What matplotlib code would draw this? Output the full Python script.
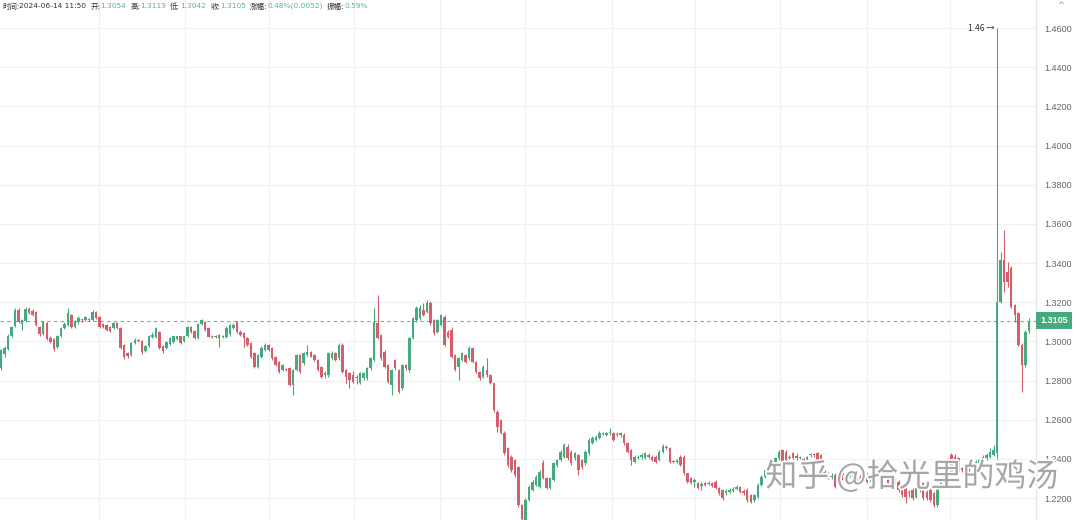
import matplotlib.pyplot as plt
import matplotlib.patheffects as pe
import matplotlib.transforms as mtransforms
from matplotlib.ticker import FormatStrFormatter
import numpy as np

# 5-minute candles (oldest first)
opens = [
    # 0-58
    1.2862, 1.2935, 1.2960, 1.3025, 1.3080, 1.3160, 1.3090, 1.3105, 1.3165, 1.3155,
    1.3150, 1.3075, 1.3040, 1.3095, 1.3015, 1.3010, 1.2970, 1.3030, 1.3070, 1.3085,
    1.3135, 1.3075, 1.3100, 1.3110, 1.3110, 1.3115, 1.3110, 1.3150, 1.3125, 1.3090,
    1.3085, 1.3075, 1.3070, 1.3095, 1.3070, 1.2980, 1.2940, 1.2930, 1.2990, 1.3005,
    1.3000, 1.2950, 1.2975, 1.3020, 1.3020, 1.3050, 1.2975, 1.2965, 1.2985, 1.2995,
    1.3010, 1.3025, 1.3000, 1.3025, 1.3075, 1.3055, 1.3015, 1.3090, 1.3100,
    # 59-115
    1.3067, 1.3030, 1.3024, 1.3033, 1.3020, 1.3024, 1.3040, 1.3070, 1.3101, 1.3050,
    1.3041, 1.3016, 1.2990, 1.2939, 1.2871, 1.2922, 1.2956, 1.2981, 1.2965, 1.2922,
    1.2896, 1.2854, 1.2860, 1.2862, 1.2777, 1.2854, 1.2930, 1.2888, 1.2930, 1.2947,
    1.2930, 1.2905, 1.2871, 1.2830, 1.2828, 1.2913, 1.2939, 1.2913, 1.2981, 1.2854,
    1.2837, 1.2830, 1.2811, 1.2786, 1.2811, 1.2811, 1.2862, 1.2905, 1.3092, 1.3033,
    1.2947, 1.2879, 1.2777, 1.2905, 1.2854, 1.2760, 1.2879,
    # 116-173
    1.2854, 1.3015, 1.3109, 1.3118, 1.3160, 1.3152, 1.3194, 1.3109, 1.3050, 1.3084,
    1.3126, 1.3050, 1.3058, 1.2930, 1.2870, 1.2905, 1.2930, 1.2913, 1.2964, 1.2896,
    1.2845, 1.2820, 1.2854, 1.2828, 1.2786, 1.2641, 1.2598, 1.2530, 1.2454, 1.2411,
    1.2394, 1.2360, 1.2164, 1.2090, 1.2190, 1.2241, 1.2267, 1.2258, 1.2377, 1.2301,
    1.2250, 1.2292, 1.2369, 1.2394, 1.2411, 1.2462, 1.2437, 1.2403, 1.2420, 1.2394,
    1.2377, 1.2428, 1.2480, 1.2497, 1.2505, 1.2530, 1.2522, 1.2530,
    # 174-233
    1.2530, 1.2525, 1.2520, 1.2522, 1.2479, 1.2445, 1.2386, 1.2405, 1.2411, 1.2403,
    1.2420, 1.2411, 1.2411, 1.2394, 1.2437, 1.2462, 1.2455, 1.2390, 1.2386, 1.2411,
    1.2411, 1.2326, 1.2301, 1.2280, 1.2275, 1.2260, 1.2275, 1.2270, 1.2275, 1.2284,
    1.2250, 1.2241, 1.2224, 1.2233, 1.2238, 1.2245, 1.2255, 1.2236, 1.2241, 1.2216,
    1.2190, 1.2207, 1.2267, 1.2309, 1.2343, 1.2352, 1.2377, 1.2403, 1.2445, 1.2437,
    1.2405, 1.2428, 1.2415, 1.2405, 1.2400, 1.2400, 1.2418, 1.2425, 1.2428, 1.2420,
    # 234-282
    1.2309, 1.2326, 1.2305, 1.2318, 1.2267, 1.2330, 1.2318, 1.2310, 1.2318, 1.2284,
    1.2309, 1.2301, 1.2318, 1.2290, 1.2300, 1.2326, 1.2360, 1.2326, 1.2326, 1.2280,
    1.2301, 1.2284, 1.2258, 1.2250, 1.2233, 1.2241, 1.2207, 1.2250, 1.2275, 1.2233,
    1.2241, 1.2224, 1.2165, 1.2250, 1.2330, 1.2394, 1.2420, 1.2411, 1.2403, 1.2352,
    1.2343, 1.2360, 1.2352, 1.2360, 1.2377, 1.2386, 1.2403, 1.2411, 1.2420,
    # 283-292
    1.2428, 1.3203, 1.3415, 1.3356, 1.3373, 1.3186, 1.3143, 1.2981, 1.2879, 1.3054,
]
highs = [
    1.2960, 1.2975, 1.3040, 1.3080, 1.3170, 1.3170, 1.3115, 1.3175, 1.3175, 1.3165,
    1.3155, 1.3080, 1.3105, 1.3100, 1.3025, 1.3015, 1.3035, 1.3075, 1.3100, 1.3170,
    1.3140, 1.3110, 1.3130, 1.3115, 1.3130, 1.3120, 1.3160, 1.3155, 1.3130, 1.3095,
    1.3090, 1.3080, 1.3100, 1.3100, 1.3075, 1.2985, 1.2945, 1.2995, 1.3015, 1.3010,
    1.3005, 1.2980, 1.3035, 1.3050, 1.3075, 1.3055, 1.2980, 1.3000, 1.3020, 1.3030,
    1.3030, 1.3030, 1.3030, 1.3080, 1.3080, 1.3060, 1.3095, 1.3115, 1.3105,
    1.3075, 1.3035, 1.3035, 1.3038, 1.3035, 1.3080, 1.3090, 1.3095, 1.3104, 1.3058,
    1.3050, 1.3020, 1.2995, 1.2945, 1.2935, 1.2975, 1.2990, 1.2985, 1.2970, 1.2925,
    1.2900, 1.2885, 1.2866, 1.2868, 1.2860, 1.2935, 1.2935, 1.2945, 1.2981, 1.2952,
    1.2935, 1.2910, 1.2875, 1.2850, 1.2945, 1.2950, 1.2945, 1.2990, 1.2990, 1.2860,
    1.2845, 1.2850, 1.2828, 1.2845, 1.2845, 1.2870, 1.2920, 1.3169, 1.3237, 1.3040,
    1.2955, 1.2885, 1.2860, 1.2910, 1.2860, 1.2885, 1.2885,
    1.3020, 1.3125, 1.3180, 1.3185, 1.3194, 1.3211, 1.3205, 1.3115, 1.3115, 1.3140,
    1.3135, 1.3058, 1.3075, 1.2935, 1.2920, 1.2945, 1.2935, 1.2975, 1.2970, 1.2900,
    1.2850, 1.2880, 1.2913, 1.2835, 1.2790, 1.2650, 1.2605, 1.2540, 1.2460, 1.2420,
    1.2400, 1.2365, 1.2170, 1.2200, 1.2265, 1.2290, 1.2318, 1.2343, 1.2395, 1.2305,
    1.2305, 1.2385, 1.2400, 1.2445, 1.2480, 1.2475, 1.2445, 1.2435, 1.2425, 1.2400,
    1.2445, 1.2505, 1.2515, 1.2520, 1.2540, 1.2535, 1.2535, 1.2556,
    1.2535, 1.2535, 1.2535, 1.2530, 1.2485, 1.2450, 1.2418, 1.2420, 1.2428, 1.2435,
    1.2428, 1.2418, 1.2418, 1.2445, 1.2475, 1.2470, 1.2460, 1.2396, 1.2400, 1.2418,
    1.2418, 1.2330, 1.2305, 1.2300, 1.2280, 1.2280, 1.2282, 1.2285, 1.2282, 1.2290,
    1.2255, 1.2248, 1.2245, 1.2250, 1.2255, 1.2265, 1.2262, 1.2245, 1.2250, 1.2222,
    1.2222, 1.2275, 1.2318, 1.2350, 1.2375, 1.2385, 1.2410, 1.2445, 1.2450, 1.2445,
    1.2418, 1.2435, 1.2430, 1.2415, 1.2406, 1.2415, 1.2432, 1.2432, 1.2435, 1.2426,
    1.2343, 1.2335, 1.2326, 1.2326, 1.2343, 1.2340, 1.2326, 1.2330, 1.2326, 1.2326,
    1.2318, 1.2318, 1.2326, 1.2309, 1.2335, 1.2365, 1.2369, 1.2335, 1.2330, 1.2301,
    1.2305, 1.2292, 1.2267, 1.2258, 1.2241, 1.2250, 1.2258, 1.2258, 1.2284, 1.2241,
    1.2250, 1.2230, 1.2265, 1.2300, 1.2335, 1.2405, 1.2428, 1.2425, 1.2411, 1.2360,
    1.2369, 1.2369, 1.2369, 1.2394, 1.2400, 1.2418, 1.2428, 1.2454, 1.2470,
    1.4600, 1.3458, 1.3569, 1.3407, 1.3385, 1.3190, 1.3150, 1.2990, 1.3060, 1.3119,
]
lows = [
    1.2855, 1.2920, 1.2955, 1.3020, 1.3075, 1.3095, 1.3060, 1.3100, 1.3140, 1.3130,
    1.3080, 1.3030, 1.3035, 1.3005, 1.2990, 1.2950, 1.2965, 1.3020, 1.3065, 1.3080,
    1.3070, 1.3070, 1.3090, 1.3100, 1.3105, 1.3105, 1.3105, 1.3115, 1.3070, 1.3070,
    1.3055, 1.3050, 1.3065, 1.3065, 1.2960, 1.2910, 1.2915, 1.2925, 1.2985, 1.2995,
    1.2935, 1.2945, 1.2970, 1.3015, 1.3015, 1.2960, 1.2940, 1.2960, 1.2980, 1.2990,
    1.3005, 1.2985, 1.2995, 1.3020, 1.3045, 1.3010, 1.3010, 1.3085, 1.3055,
    1.3020, 1.3015, 1.3018, 1.2973, 1.3015, 1.3015, 1.3030, 1.3065, 1.3045, 1.3028,
    1.2973, 1.2975, 1.2915, 1.2865, 1.2865, 1.2915, 1.2950, 1.2950, 1.2905, 1.2875,
    1.2840, 1.2850, 1.2850, 1.2770, 1.2726, 1.2850, 1.2840, 1.2880, 1.2925, 1.2918,
    1.2900, 1.2848, 1.2815, 1.2815, 1.2820, 1.2905, 1.2900, 1.2905, 1.2840, 1.2790,
    1.2760, 1.2785, 1.2780, 1.2780, 1.2805, 1.2805, 1.2855, 1.2900, 1.3010, 1.2905,
    1.2865, 1.2785, 1.2726, 1.2855, 1.2735, 1.2750, 1.2855,
    1.2845, 1.3010, 1.3100, 1.3110, 1.3130, 1.3145, 1.3085, 1.3035, 1.3045, 1.3080,
    1.2975, 1.3015, 1.2915, 1.2850, 1.2803, 1.2900, 1.2890, 1.2905, 1.2890, 1.2840,
    1.2805, 1.2815, 1.2820, 1.2780, 1.2640, 1.2539, 1.2525, 1.2420, 1.2360, 1.2335,
    1.2310, 1.2155, 1.2080, 1.2080, 1.2185, 1.2235, 1.2260, 1.2250, 1.2295, 1.2245,
    1.2245, 1.2285, 1.2360, 1.2390, 1.2405, 1.2395, 1.2370, 1.2395, 1.2318, 1.2350,
    1.2370, 1.2420, 1.2475, 1.2490, 1.2500, 1.2520, 1.2515, 1.2520,
    1.2490, 1.2515, 1.2510, 1.2470, 1.2430, 1.2370, 1.2380, 1.2398, 1.2400, 1.2398,
    1.2405, 1.2388, 1.2380, 1.2388, 1.2430, 1.2450, 1.2380, 1.2380, 1.2380, 1.2362,
    1.2320, 1.2278, 1.2270, 1.2258, 1.2245, 1.2241, 1.2260, 1.2265, 1.2255, 1.2245,
    1.2218, 1.2190, 1.2218, 1.2228, 1.2230, 1.2240, 1.2228, 1.2218, 1.2182, 1.2173,
    1.2182, 1.2200, 1.2260, 1.2300, 1.2335, 1.2345, 1.2370, 1.2395, 1.2380, 1.2388,
    1.2400, 1.2398, 1.2394, 1.2400, 1.2390, 1.2394, 1.2410, 1.2410, 1.2388, 1.2380,
    1.2301, 1.2295, 1.2295, 1.2250, 1.2260, 1.2292, 1.2300, 1.2300, 1.2275, 1.2278,
    1.2292, 1.2292, 1.2278, 1.2284, 1.2292, 1.2318, 1.2318, 1.2305, 1.2270, 1.2270,
    1.2267, 1.2233, 1.2207, 1.2173, 1.2207, 1.2190, 1.2199, 1.2233, 1.2190, 1.2190,
    1.2182, 1.2156, 1.2156, 1.2245, 1.2295, 1.2352, 1.2326, 1.2318, 1.2326, 1.2335,
    1.2330, 1.2318, 1.2345, 1.2352, 1.2369, 1.2380, 1.2395, 1.2405, 1.2415,
    1.2400, 1.3194, 1.3254, 1.3279, 1.3170, 1.3100, 1.2975, 1.2743, 1.2870, 1.3042,
]
closes = [
    1.2955, 1.2965, 1.3030, 1.3075, 1.3160, 1.3100, 1.3110, 1.3165, 1.3145, 1.3135,
    1.3085, 1.3040, 1.3100, 1.3010, 1.2995, 1.2960, 1.3030, 1.3070, 1.3090, 1.3145,
    1.3075, 1.3105, 1.3120, 1.3108, 1.3125, 1.3110, 1.3150, 1.3120, 1.3075, 1.3075,
    1.3060, 1.3055, 1.3095, 1.3070, 1.2965, 1.2920, 1.2925, 1.2990, 1.3005, 1.3000,
    1.2945, 1.2975, 1.3030, 1.3035, 1.3070, 1.2965, 1.2950, 1.2995, 1.3015, 1.3025,
    1.3025, 1.2990, 1.3025, 1.3075, 1.3050, 1.3015, 1.3090, 1.3110, 1.3060,
    1.3024, 1.3024, 1.3028, 1.3016, 1.3030, 1.3067, 1.3084, 1.3084, 1.3050, 1.3033,
    1.3016, 1.2981, 1.2922, 1.2871, 1.2930, 1.2965, 1.2981, 1.2956, 1.2913, 1.2879,
    1.2845, 1.2879, 1.2856, 1.2777, 1.2854, 1.2930, 1.2845, 1.2939, 1.2947, 1.2922,
    1.2905, 1.2854, 1.2820, 1.2840, 1.2939, 1.2939, 1.2905, 1.2981, 1.2845, 1.2820,
    1.2803, 1.2794, 1.2820, 1.2837, 1.2837, 1.2862, 1.2913, 1.3101, 1.3016, 1.2913,
    1.2871, 1.2794, 1.2854, 1.2862, 1.2743, 1.2879, 1.2862,
    1.3015, 1.3118, 1.3169, 1.3169, 1.3135, 1.3194, 1.3092, 1.3041, 1.3109, 1.3135,
    1.2981, 1.3024, 1.2922, 1.2854, 1.2913, 1.2939, 1.2896, 1.2964, 1.2896, 1.2845,
    1.2811, 1.2871, 1.2828, 1.2786, 1.2650, 1.2564, 1.2530, 1.2428, 1.2369, 1.2343,
    1.2318, 1.2164, 1.2095, 1.2190, 1.2258, 1.2284, 1.2309, 1.2335, 1.2301, 1.2250,
    1.2301, 1.2377, 1.2394, 1.2437, 1.2471, 1.2403, 1.2377, 1.2428, 1.2345, 1.2360,
    1.2437, 1.2497, 1.2505, 1.2513, 1.2530, 1.2526, 1.2530, 1.2535,
    1.2496, 1.2520, 1.2530, 1.2479, 1.2437, 1.2394, 1.2411, 1.2411, 1.2420, 1.2428,
    1.2411, 1.2394, 1.2386, 1.2437, 1.2466, 1.2455, 1.2386, 1.2386, 1.2392, 1.2369,
    1.2326, 1.2284, 1.2275, 1.2290, 1.2250, 1.2270, 1.2268, 1.2278, 1.2262, 1.2250,
    1.2224, 1.2199, 1.2235, 1.2241, 1.2245, 1.2255, 1.2233, 1.2226, 1.2190, 1.2182,
    1.2216, 1.2267, 1.2309, 1.2343, 1.2369, 1.2377, 1.2403, 1.2437, 1.2386, 1.2394,
    1.2410, 1.2403, 1.2405, 1.2410, 1.2396, 1.2408, 1.2425, 1.2418, 1.2394, 1.2386,
    1.2335, 1.2301, 1.2312, 1.2258, 1.2335, 1.2318, 1.2310, 1.2318, 1.2284, 1.2318,
    1.2301, 1.2309, 1.2284, 1.2300, 1.2326, 1.2352, 1.2326, 1.2318, 1.2275, 1.2290,
    1.2275, 1.2241, 1.2216, 1.2207, 1.2224, 1.2199, 1.2250, 1.2241, 1.2199, 1.2199,
    1.2190, 1.2165, 1.2258, 1.2292, 1.2301, 1.2360, 1.2335, 1.2326, 1.2335, 1.2343,
    1.2360, 1.2326, 1.2360, 1.2386, 1.2394, 1.2411, 1.2420, 1.2437, 1.2445,
    1.3203, 1.3415, 1.3305, 1.3305, 1.3177, 1.3134, 1.2981, 1.2879, 1.3049, 1.3105,
]

y_ticks = [1.22, 1.24, 1.26, 1.28, 1.30, 1.32, 1.34, 1.36, 1.38, 1.40, 1.42, 1.44, 1.46]
last_price = 1.3105
peak_label = "1.46 →"
header_labels = ["时间:", "开:", "高:", "低:", "收:", "涨幅:", "振幅:"]
header_values = ["2024-06-14 11:50", "1.3054", "1.3119", "1.3042", "1.3105", "0.48%(0.0052)", "0.59%"]
watermark = "知乎 @拾光里的鸡汤"

UP = "#45ab7e"
DOWN = "#d45f6c"
GRID = "#f1f1f1"
CJK = ["Noto Sans CJK SC", "DejaVu Sans"]
HEAD = ["DejaVu Sans", "Noto Sans CJK SC"]

W, H = 1080, 520
PX_BAR = 3.52      # pixels between candles
X0_PX = 1          # pixel of the first candle
AX_RIGHT = 1036    # pixel of the price scale border


def px_to_x(px):
    return (px - X0_PX) / PX_BAR


o = np.array(opens)
h = np.array(highs)
l = np.array(lows)
c = np.array(closes)
x = np.arange(len(c))
colors = np.where(c >= o, UP, DOWN)

fig = plt.figure(figsize=(W / 100, H / 100), dpi=100)
ax = fig.add_axes([0, 0, AX_RIGHT / W, 1])

# grid
for gx in [99, 185, 269, 354, 440, 525, 612, 695, 780, 867, 950]:
    ax.axvline(px_to_x(gx), color=GRID, lw=0.9, zorder=0)
for gy in y_ticks:
    ax.axhline(gy, color=GRID, lw=0.9, zorder=0)

# candles
ax.vlines(x, l, h, colors=colors, lw=0.8, zorder=2)
ax.bar(x, np.maximum(np.abs(c - o), 0.0004), bottom=np.minimum(o, c),
       width=0.7, color=colors, linewidth=0, zorder=3)

ax.axhline(last_price, color="#6cb38f", lw=0.8, ls=(0, (3, 3)), zorder=1)

ax.set_xlim(px_to_x(0), px_to_x(AX_RIGHT))
ax.set_ylim(1.2088, 1.4743)
ax.set_xticks([])
ax.set_yticks(y_ticks)
ax.yaxis.set_major_formatter(FormatStrFormatter("%.4f"))
ax.yaxis.tick_right()
ax.tick_params(axis="y", length=0, pad=6, labelsize=6.5, labelcolor="#666666")
for lab in ax.get_yticklabels():
    lab.set_family("Liberation Sans")
for side in ["top", "left", "bottom"]:
    ax.spines[side].set_visible(False)
ax.spines["right"].set_color("#e4e4e4")
ax.spines["right"].set_linewidth(0.8)

# peak marker
peak = int(np.argmax(h))
ax.annotate(peak_label, xy=(peak, h[peak]), xytext=(-2, 0), textcoords="offset points",
            ha="right", va="center", fontsize=6, color="#333333", family=CJK)

# last price tag on the scale
tr = mtransforms.blended_transform_factory(ax.transAxes, ax.transData)
ax.text(1.0 + 4 / AX_RIGHT, last_price, f"{last_price:.4f}", transform=tr,
        ha="left", va="center", color="white", fontsize=6.5, fontweight="bold",
        family="Liberation Sans",
        bbox=dict(boxstyle="square,pad=0.45", fc="#45ab7e", ec="none"), clip_on=False)

# header line, laid out left to right
renderer = fig.canvas.get_renderer()
pieces = []
for lab, val in zip(header_labels, header_values):
    t1 = fig.text(0, 1 - 6 / H, lab, ha="left", va="center", fontsize=5.4,
                  color="#333333", family=HEAD)
    t2 = fig.text(0, 1 - 6 / H, val, ha="left", va="center", fontsize=5.4,
                  color="#333333" if lab == "时间:" else "#5bb58d", family=HEAD)
    pieces.append((t1, t2))
widths = [(a.get_window_extent(renderer).width, b.get_window_extent(renderer).width)
          for a, b in pieces]
total = sum(a + b for a, b in widths)
gap = max((332 - 2 - total) / (len(pieces) - 1), 4)
cur = 2
for (t1, t2), (w1, w2) in zip(pieces, widths):
    t1.set_x(cur / W)
    t2.set_x((cur + w1) / W)
    cur += w1 + w2 + gap

fig.text(1061 / W, 1 - 5 / H, "^", ha="center", va="center", fontsize=6, color="#999999")

# watermark
fig.text(912 / W, 1 - 477 / H, watermark, ha="center", va="center", fontsize=23,
         color="#a6a6a6", family=CJK,
         path_effects=[pe.withStroke(linewidth=2.5, foreground="white")])

fig.savefig("out.png", dpi=100)
